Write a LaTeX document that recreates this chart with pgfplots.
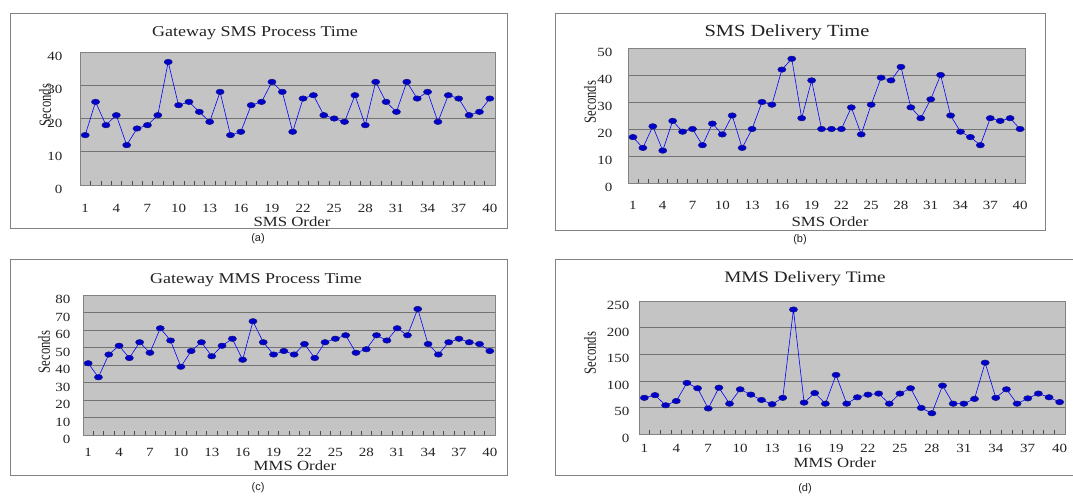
\documentclass[border=0pt]{standalone}
\usepackage{fontspec}
\setmainfont{Liberation Serif}[FakeStretch=1.2]
\newfontfamily\capfont{Liberation Sans}
\newfontfamily\secfont{Liberation Serif}
\usepackage{pgfplots}
\pgfplotsset{compat=1.18}
\definecolor{plotbg}{RGB}{196,196,196}
\definecolor{gridc}{RGB}{115,115,115}
\definecolor{linec}{RGB}{115,115,200}
\definecolor{markc}{RGB}{20,20,140}
\definecolor{framec}{RGB}{130,130,130}
\definecolor{textc}{RGB}{35,35,35}
\pgfplotsset{
  panel/.style={
    scale only axis,
    anchor=south west,
    xmin=0.5, xmax=40.5, ymin=0,
    xtick={1,4,...,40},
    minor xtick={0.5,1.5,...,40.5},
    major tick length=0pt,
    minor tick length=4pt,
    tick align=inside,
    xtick pos=bottom, ytick pos=left,
    ymajorgrids,
    grid style={gridc, line width=0.6pt},
    axis background/.style={fill=plotbg},
    axis line style={framec, line width=0.6pt},
    minor tick style={black!70, line width=0.5pt},
    tick label style={font=\fontsize{12.5}{12.5}\selectfont, text=textc},
    /pgf/number format/assume math mode=true,
    yticklabel style={yshift=-4.5pt},
    every axis plot/.append style={linec, line width=0.6pt, mark=diamond*, mark size=2.7pt,
      mark options={xscale=1.5, fill=markc, draw=markc}},
  }
}
\begin{document}
\begin{tikzpicture}
\useasboundingbox (0pt,0pt) rectangle (1073pt,498pt);
\fill[white] (0pt,0pt) rectangle (1073pt,498pt);
\clip (0pt,0pt) rectangle (1073pt,498pt);
% frames
\draw[framec, line width=0.6pt] (10pt,485pt) rectangle (507pt,270pt);
\draw[framec, line width=0.6pt] (555pt,485pt) rectangle (1045pt,268pt);
\draw[framec, line width=0.6pt] (10pt,239pt) rectangle (507pt,23pt);
\draw[framec, line width=0.6pt] (555pt,239pt) rectangle (1085pt,23pt);

% (a)
\begin{axis}[panel, at={(80pt,313pt)}, width=415pt, height=133pt, ymax=40, ytick={0,10,...,40},
  xticklabel style={yshift=-16pt}, yticklabel style={xshift=-14pt}]
\addplot coordinates {(1,15)(2,25)(3,18)(4,21)(5,12)(6,17)(7,18)(8,21)(9,37)(10,24)(11,25)(12,22)(13,19)(14,28)(15,15)(16,16)(17,24)(18,25)(19,31)(20,28)(21,16)(22,26)(23,27)(24,21)(25,20)(26,19)(27,27)(28,18)(29,31)(30,25)(31,22)(32,31)(33,26)(34,28)(35,19)(36,27)(37,26)(38,21)(39,22)(40,26)};
\end{axis}

% (b)
\begin{axis}[panel, at={(628pt,315pt)}, width=397pt, height=135pt, ymax=50, ytick={0,10,...,50},
  xticklabel style={yshift=-15pt}, yticklabel style={xshift=-12pt}]
\addplot coordinates {(1,17)(2,13)(3,21)(4,12)(5,23)(6,19)(7,20)(8,14)(9,22)(10,18)(11,25)(12,13)(13,20)(14,30)(15,29)(16,42)(17,46)(18,24)(19,38)(20,20)(21,20)(22,20)(23,28)(24,18)(25,29)(26,39)(27,38)(28,43)(29,28)(30,24)(31,31)(32,40)(33,25)(34,19)(35,17)(36,14)(37,24)(38,23)(39,24)(40,20)};
\end{axis}

% (c)
\begin{axis}[panel, at={(83pt,63pt)}, width=412pt, height=140pt, ymax=80, ytick={0,10,...,80},
  xticklabel style={yshift=-10pt}, yticklabel style={xshift=-9pt}]
\addplot coordinates {(1,41)(2,33)(3,46)(4,51)(5,44)(6,53)(7,47)(8,61)(9,54)(10,39)(11,48)(12,53)(13,45)(14,51)(15,55)(16,43)(17,65)(18,53)(19,46)(20,48)(21,46)(22,52)(23,44)(24,53)(25,55)(26,57)(27,47)(28,49)(29,57)(30,54)(31,61)(32,57)(33,72)(34,52)(35,46)(36,53)(37,55)(38,53)(39,52)(40,48)};
\end{axis}

% (d)
\begin{axis}[panel, at={(639pt,64pt)}, width=426pt, height=133pt, ymax=250, ytick={0,50,...,250},
  xticklabel style={yshift=-7pt}, yticklabel style={xshift=-6pt}]
\addplot coordinates {(1,68)(2,73)(3,54)(4,62)(5,96)(6,86)(7,48)(8,87)(9,57)(10,84)(11,74)(12,64)(13,56)(14,68)(15,234)(16,59)(17,77)(18,57)(19,111)(20,57)(21,69)(22,74)(23,76)(24,57)(25,76)(26,86)(27,49)(28,39)(29,91)(30,57)(31,57)(32,66)(33,134)(34,68)(35,84)(36,57)(37,67)(38,76)(39,69)(40,60)};
\end{axis}

% titles
\node[font=\fontsize{15}{15}\selectfont, text=textc] at (255pt,465pt) {Gateway SMS Process Time};
\node[font=\fontsize{17}{17}\selectfont, text=textc] at (787pt,466pt) {SMS Delivery Time};
\node[font=\fontsize{15}{15}\selectfont, text=textc] at (256pt,218pt) {Gateway MMS Process Time};
\node[font=\fontsize{16}{16}\selectfont, text=textc] at (805pt,219pt) {MMS Delivery Time};
% y labels
\node[font=\secfont\fontsize{17}{17}\selectfont, text=textc, rotate=90] at (45pt,393pt) {\scalebox{0.75}[1]{Seconds}};
\node[font=\secfont\fontsize{17}{17}\selectfont, text=textc, rotate=90] at (590pt,396pt) {\scalebox{0.75}[1]{Seconds}};
\node[font=\secfont\fontsize{17}{17}\selectfont, text=textc, rotate=90] at (44pt,146pt) {\scalebox{0.75}[1]{Seconds}};
\node[font=\secfont\fontsize{17}{17}\selectfont, text=textc, rotate=90] at (590pt,145pt) {\scalebox{0.75}[1]{Seconds}};
% x labels
\node[font=\fontsize{14}{14}\selectfont, text=textc] at (292pt,276pt) {SMS Order};
\node[font=\fontsize{14}{14}\selectfont, text=textc] at (830pt,276pt) {SMS Order};
\node[font=\fontsize{14}{14}\selectfont, text=textc] at (295pt,32pt) {MMS Order};
\node[font=\fontsize{14}{14}\selectfont, text=textc] at (835pt,35pt) {MMS Order};
% captions
\node[font=\capfont\fontsize{11}{11}\selectfont, text=textc] at (258pt,259pt) {(a)};
\node[font=\capfont\fontsize{11}{11}\selectfont, text=textc] at (800pt,258pt) {(b)};
\node[font=\capfont\fontsize{11}{11}\selectfont, text=textc] at (258pt,10pt) {(c)};
\node[font=\capfont\fontsize{11}{11}\selectfont, text=textc] at (805pt,9pt) {(d)};
\end{tikzpicture}
\end{document}
